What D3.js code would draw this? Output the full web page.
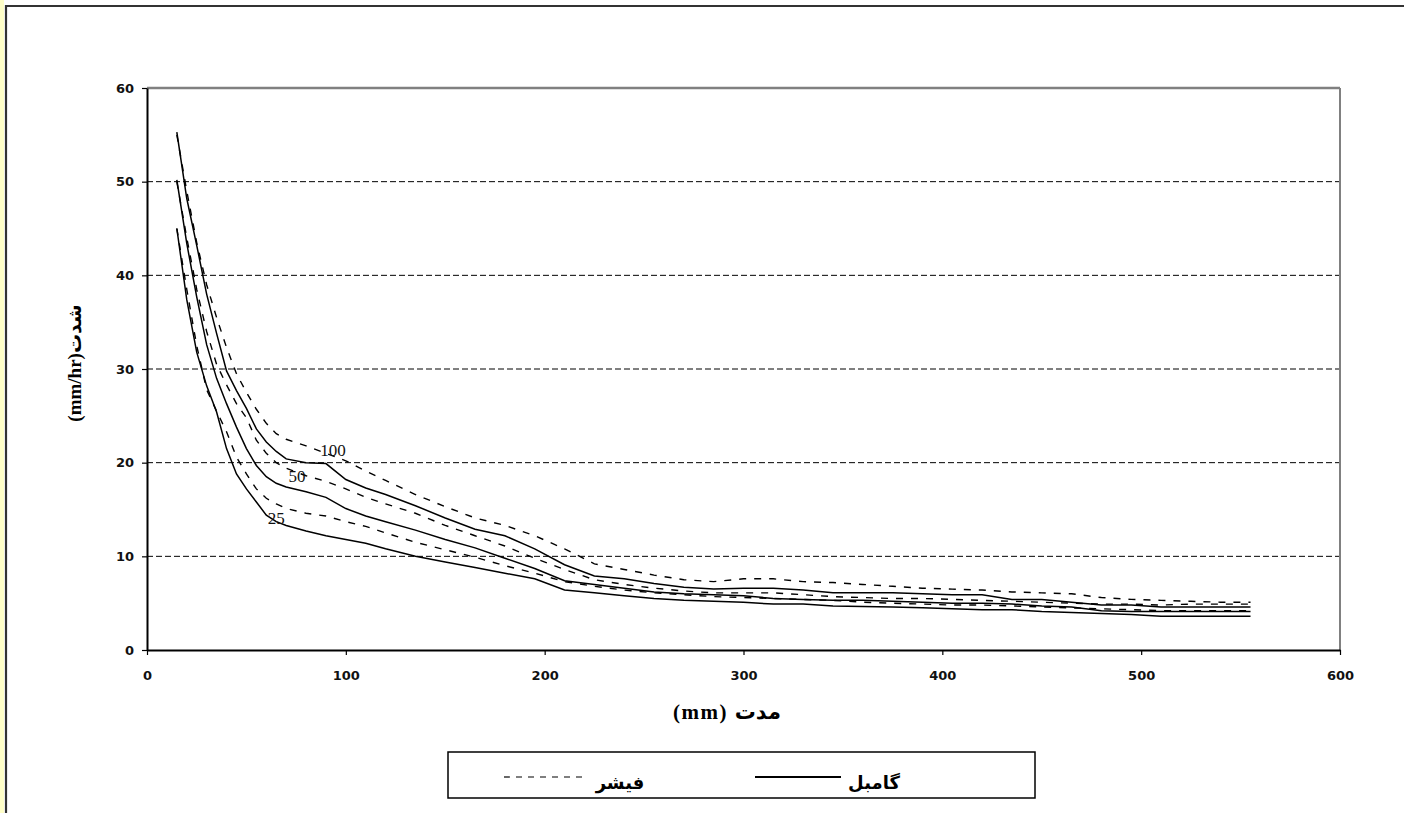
<!DOCTYPE html>
<html>
<head>
<meta charset="utf-8">
<script src="https://cdn.jsdelivr.net/npm/d3@7"></script>
<style>
  html, body { margin: 0; padding: 0; background: #fff; }
  svg { display: block; }
</style>
</head>
<body>
<svg id="chart" width="1404" height="813"></svg>
<script>
// ---------------- data ----------------
const durations = [15, 20, 25, 30, 35, 40, 45, 50, 55, 60, 65, 70, 80, 90, 100, 110, 120, 135, 150, 165, 180, 195, 210, 225, 240, 255, 270, 285, 300, 315, 330, 345, 360, 375, 390, 405, 420, 435, 450, 465, 480, 495, 510, 525, 540, 555];

// Gumbel (solid)
const gumbel100 = [55.3, 48.2, 43.2, 38.0, 33.8, 29.8, 27.7, 25.8, 23.6, 22.2, 21.2, 20.4, 20.0, 19.9, 18.2, 17.3, 16.6, 15.4, 14.1, 12.9, 12.2, 10.8, 9.1, 7.9, 7.6, 7.1, 6.7, 6.5, 6.6, 6.6, 6.4, 6.1, 6.1, 6.1, 6.0, 5.9, 5.9, 5.4, 5.4, 5.1, 4.8, 4.8, 4.6, 4.6, 4.6, 4.6];
const gumbel50  = [50.2, 43.4, 37.7, 32.6, 29.0, 26.3, 23.8, 21.5, 19.7, 18.5, 17.8, 17.4, 16.9, 16.3, 15.1, 14.3, 13.7, 12.8, 11.8, 10.9, 9.8, 8.7, 7.4, 7.0, 6.6, 6.2, 6.0, 5.9, 5.8, 5.5, 5.4, 5.3, 5.3, 5.2, 5.1, 5.0, 5.0, 4.9, 4.7, 4.6, 4.2, 4.1, 4.1, 4.1, 4.1, 4.1];
const gumbel25  = [45.0, 37.4, 31.8, 28.2, 25.4, 21.5, 18.8, 17.2, 15.8, 14.4, 13.7, 13.3, 12.7, 12.2, 11.8, 11.4, 10.8, 10.0, 9.4, 8.8, 8.2, 7.6, 6.4, 6.1, 5.8, 5.5, 5.3, 5.2, 5.1, 4.9, 4.9, 4.7, 4.65, 4.6, 4.5, 4.4, 4.3, 4.3, 4.1, 4.0, 3.9, 3.8, 3.6, 3.6, 3.6, 3.6];

// Fisher (dashed)
const fisher100 = [55.0, 49.0, 43.5, 39.0, 35.5, 32.3, 29.5, 27.5, 25.7, 24.2, 23.1, 22.5, 21.8, 21.0, 20.2, 19.1, 18.1, 16.6, 15.3, 14.1, 13.3, 12.2, 10.8, 9.2, 8.6, 8.0, 7.5, 7.3, 7.6, 7.6, 7.3, 7.2, 7.0, 6.8, 6.6, 6.5, 6.4, 6.2, 6.1, 6.0, 5.6, 5.4, 5.3, 5.2, 5.1, 5.1];
const fisher50  = [50.0, 44.0, 38.5, 34.0, 30.5, 28.3, 26.3, 24.8, 22.4, 21.0, 20.0, 19.4, 18.6, 18.0, 17.2, 16.3, 15.6, 14.6, 13.3, 12.2, 11.1, 9.8, 8.6, 7.5, 7.0, 6.6, 6.3, 6.1, 6.1, 6.1, 5.9, 5.7, 5.6, 5.5, 5.5, 5.4, 5.3, 5.2, 5.1, 5.0, 4.9, 4.9, 4.8, 4.9, 4.9, 4.9];
const fisher25  = [45.0, 38.5, 32.5, 27.8, 25.5, 23.3, 20.6, 18.8, 17.2, 16.2, 15.6, 15.1, 14.6, 14.3, 13.7, 13.2, 12.5, 11.5, 10.7, 9.9, 9.0, 8.2, 7.3, 6.8, 6.4, 6.1, 5.9, 5.7, 5.6, 5.5, 5.4, 5.3, 5.1, 5.0, 4.9, 4.8, 4.8, 4.7, 4.6, 4.5, 4.4, 4.3, 4.2, 4.2, 4.2, 4.2];

const xTicks = [0, 100, 200, 300, 400, 500, 600];
const yTicks = [0, 10, 20, 30, 40, 50, 60];
const gridValues = [10, 20, 30, 40, 50];

const returnLabels = ["100", "50", "25"];
const labelX = [93.6, 75.5, 65.0];
const labelY = [21.3, 18.5, 14.0];

const xTitle = "(mm) مدت";
const yTitle = "(mm/hr)شدت";
const legendNames = ["فیشر", "گامبل"];

// ---------------- drawing ----------------
const svg = d3.select("#chart");

// page frame
svg.append("rect").attr("x", 0).attr("y", 0).attr("width", 4).attr("height", 813).attr("fill", "#ffffc8");
svg.append("line").attr("x1", 6).attr("x2", 6).attr("y1", 5).attr("y2", 813)
  .attr("stroke", "#333").attr("stroke-width", 2.2);
svg.append("line").attr("x1", 5).attr("x2", 1404).attr("y1", 6).attr("y2", 6)
  .attr("stroke", "#333").attr("stroke-width", 2.2);

const x = d3.scaleLinear().domain([0, 600]).range([147, 1340]);
const y = d3.scaleLinear().domain([0, 60]).range([650, 88]);

// gridlines
svg.append("g").selectAll("line").data(gridValues).join("line")
  .attr("x1", x(0)).attr("x2", x(600))
  .attr("y1", d => y(d)).attr("y2", d => y(d))
  .attr("stroke", "#000").attr("stroke-width", 1)
  .attr("stroke-dasharray", "6,3");

// plot frame top/right (gray)
svg.append("line").attr("x1", x(0)).attr("x2", x(600)).attr("y1", y(60)).attr("y2", y(60))
  .attr("stroke", "#808080").attr("stroke-width", 2.5);
svg.append("line").attr("x1", x(600)).attr("x2", x(600)).attr("y1", y(60)).attr("y2", y(0))
  .attr("stroke", "#808080").attr("stroke-width", 2);

// axes
const tickFont = "'DejaVu Sans', Verdana, sans-serif";
const yAxis = svg.append("g").attr("transform", `translate(${x(0)},0)`)
  .call(d3.axisLeft(y).tickValues(yTicks).tickSize(5).tickSizeOuter(0).tickPadding(8));
const xAxis = svg.append("g").attr("transform", `translate(0,${y(0)})`)
  .call(d3.axisBottom(x).tickValues(xTicks).tickSize(5).tickSizeOuter(0).tickPadding(16));
[xAxis, yAxis].forEach(g => {
  g.select(".domain").attr("stroke", "#000").attr("stroke-width", 2);
  g.selectAll(".tick line").attr("stroke", "#000").attr("stroke-width", 1.2);
  g.selectAll(".tick text").attr("font-family", tickFont).attr("font-weight", "bold")
    .attr("font-size", 13).attr("fill", "#111");
});

// series
const line = d3.line().x(d => x(d[0])).y(d => y(d[1])).curve(d3.curveLinear);
const solidSeries = [gumbel100, gumbel50, gumbel25];
const dashedSeries = [fisher100, fisher50, fisher25];

svg.append("g").selectAll("path").data(dashedSeries).join("path")
  .attr("d", s => line(durations.map((d, i) => [d, s[i]])))
  .attr("fill", "none").attr("stroke", "#000").attr("stroke-width", 1.4)
  .attr("stroke-dasharray", "7,8");
svg.append("g").selectAll("path").data(solidSeries).join("path")
  .attr("d", s => line(durations.map((d, i) => [d, s[i]])))
  .attr("fill", "none").attr("stroke", "#000").attr("stroke-width", 1.5);

// return-period labels
svg.append("g").selectAll("text").data(returnLabels).join("text")
  .attr("x", (d, i) => x(labelX[i])).attr("y", (d, i) => y(labelY[i]))
  .attr("text-anchor", "middle").attr("dominant-baseline", "central")
  .attr("font-family", "'Liberation Serif', 'Times New Roman', serif")
  .attr("font-size", 17).attr("fill", "#111")
  .text(d => d);

// axis titles
svg.append("text")
  .attr("x", 727).attr("y", 719)
  .attr("text-anchor", "middle")
  .attr("font-family", "'Liberation Serif', 'DejaVu Sans', serif")
  .attr("font-weight", "bold").attr("font-size", 21).attr("fill", "#000")
  .attr("letter-spacing", 1.5)
  .text(xTitle);

svg.append("text")
  .attr("transform", "translate(81,363) rotate(-90)")
  .attr("text-anchor", "middle")
  .attr("font-family", "'Liberation Serif', 'DejaVu Sans', serif")
  .attr("font-weight", "bold").attr("font-size", 19).attr("fill", "#000")
  .text(yTitle);

// legend
const lg = svg.append("g");
lg.append("rect").attr("x", 448).attr("y", 752).attr("width", 587).attr("height", 46)
  .attr("fill", "#fff").attr("stroke", "#000").attr("stroke-width", 1.5);
lg.append("line").attr("x1", 504).attr("x2", 588).attr("y1", 777).attr("y2", 777)
  .attr("stroke", "#000").attr("stroke-width", 1.2).attr("stroke-dasharray", "6,6");
lg.append("line").attr("x1", 755).attr("x2", 841).attr("y1", 777).attr("y2", 777)
  .attr("stroke", "#000").attr("stroke-width", 2);
lg.selectAll("text").data(legendNames).join("text")
  .attr("x", (d, i) => i === 0 ? 620 : 874)
  .attr("y", 789)
  .attr("text-anchor", "middle")
  .attr("font-family", "'DejaVu Sans', sans-serif")
  .attr("font-weight", "bold").attr("font-size", 18).attr("fill", "#000")
  .text(d => d);
</script>
</body>
</html>
